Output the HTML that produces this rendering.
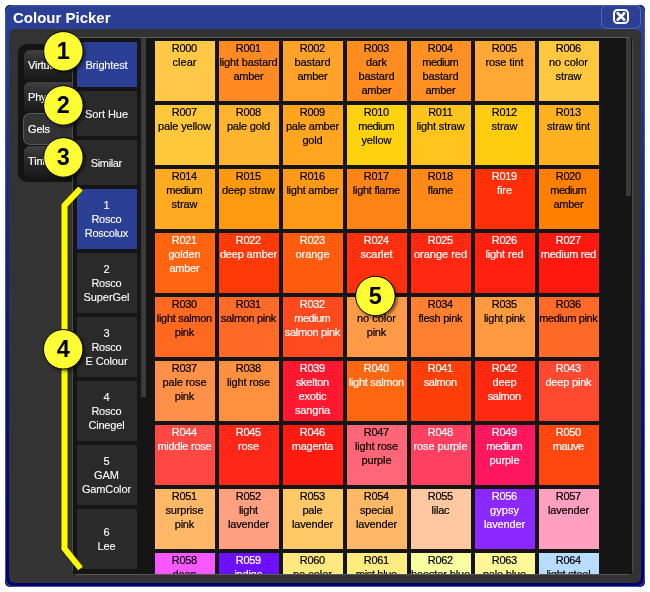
<!DOCTYPE html>
<html><head><meta charset="utf-8"><title>Colour Picker</title>
<style>
html,body{margin:0;padding:0;background:#fff;}
body{width:650px;height:592px;position:relative;overflow:hidden;font-family:"Liberation Sans",Arial,sans-serif;font-size:11px;}
.abs{position:absolute;}
#back{position:absolute;left:5px;top:5px;width:640px;height:582px;background:#000;border-radius:5px;}
#hl{position:absolute;left:5px;top:5px;width:640px;height:582px;border-radius:8px;background:#3e56b8;}
#win{position:absolute;left:6px;top:6px;width:638px;height:580px;border-radius:7px;background:linear-gradient(#2b3f94 0,#2b3f94 24px,#1b2d8a 154px,#0a1076 394px,#03036e 100%);overflow:hidden;}
#title{position:absolute;left:7px;top:2.5px;color:#fff;font-weight:bold;font-size:15px;line-height:18px;white-space:nowrap;}
#close{position:absolute;left:595px;top:-1px;width:38px;height:22px;border:1px solid #5069bb;border-radius:6px;}
#panel{position:absolute;left:3px;top:23px;width:632px;height:554px;background:#333;border-radius:6px;}
#pane{position:absolute;left:73px;top:38px;width:559px;height:536px;background:#151515;overflow:hidden;}
.ln{position:absolute;}
.sw{position:absolute;width:60px;height:60px;text-align:center;line-height:14px;color:#000;padding-top:0px;padding-right:1px;box-sizing:border-box;overflow:hidden;white-space:nowrap;}
.sw.w{color:#fff;}
.sw{-webkit-text-stroke:0.2px currentColor;}
.btn{-webkit-text-stroke:0.1px #fff;padding-right:1px;box-sizing:border-box;position:absolute;left:4px;width:60px;background:#2a2a2a;color:#fff;text-align:center;line-height:14px;display:flex;align-items:center;justify-content:center;}
.btn.sel{background:#2b3f94;}
.sb{position:absolute;background:#3a3a3a;}
#tabs{position:absolute;left:18px;top:44px;width:56px;height:138px;background:#141414;border-radius:9px 0 0 9px;}
.tab{letter-spacing:-0.17px;position:absolute;left:24px;width:48px;height:31px;border-radius:6px 0 0 6px;background:linear-gradient(#404040,#2a2a2a 45%,#181818);color:#fff;line-height:31px;padding-left:4px;-webkit-text-stroke:0.2px #fff;box-sizing:border-box;overflow:hidden;white-space:nowrap;}
.tab.sel{background:#333;border:1px solid #585858;border-right:none;left:23px;width:50px;border-radius:7px 0 0 7px;}
.circ{position:absolute;width:38px;height:38px;border-radius:50%;background:#ffff33;border:1px solid #000;box-shadow:2px 2px 3px rgba(0,0,0,.6);font-weight:bold;font-size:22px;line-height:38px;text-align:center;color:#000;}
</style></head><body>
<div id="back"></div>
<div id="hl"></div>
<div id="win">
 <div id="title">Colour Picker</div>
 <div id="close"><svg class="abs" style="left:11px;top:3px" width="17" height="16" viewBox="0 0 17 16"><rect x="1" y="1" width="14" height="13" rx="3.5" fill="none" stroke="#fff" stroke-width="2"/><path d="M4 3.5 L12 11.5 M12 3.5 L4 11.5" stroke="#fff" stroke-width="2.5" stroke-linecap="butt"/></svg></div>
 <div id="panel"></div>
</div>
<div id="tabs"></div>
<div class="tab" style="top:50px">Virtual</div>
<div class="tab" style="top:82px">Phys</div>
<div class="tab sel" style="top:113px;height:32px;line-height:30px">Gels</div>
<div class="tab" style="top:146px;height:32px;line-height:30px">Tints</div>
<div class="ln" style="left:76px;top:37px;width:553px;height:1px;background:#5c5c5c"></div><div class="ln" style="left:76px;top:574px;width:553px;height:1px;background:#585858"></div><div class="ln" style="left:72px;top:41px;width:1px;height:530px;background:#4c4c4c"></div><div class="ln" style="left:632px;top:41px;width:1px;height:530px;background:#4c4c4c"></div>
<div id="pane">
<div class="btn sel" style="top:4px;height:45px"><span><span style="letter-spacing:-0.157px;margin-right:0.157px">Brightest</span></span></div>
<div class="btn" style="top:53px;height:45px"><span><span style="letter-spacing:-0.051px;margin-right:0.051px">Sort Hue</span></span></div>
<div class="btn" style="top:102px;height:45px"><span><span style="letter-spacing:-0.373px;margin-right:0.373px">Similar</span></span></div>
<div class="btn sel" style="top:151px;height:60px"><span><span style="letter-spacing:-0.118px;margin-right:0.118px">1</span><br><span style="letter-spacing:-0.236px;margin-right:0.236px">Rosco</span><br><span style="letter-spacing:-0.28px;margin-right:0.28px">Roscolux</span></span></div>
<div class="btn" style="top:215px;height:60px"><span><span style="letter-spacing:-0.118px;margin-right:0.118px">2</span><br><span style="letter-spacing:-0.236px;margin-right:0.236px">Rosco</span><br><span style="letter-spacing:-0.059px;margin-right:0.059px">SuperGel</span></span></div>
<div class="btn" style="top:279px;height:60px"><span><span style="letter-spacing:-0.118px;margin-right:0.118px">3</span><br><span style="letter-spacing:-0.236px;margin-right:0.236px">Rosco</span><br><span style="letter-spacing:-0.1px;margin-right:0.1px">E Colour</span></span></div>
<div class="btn" style="top:343px;height:60px"><span><span style="letter-spacing:-0.118px;margin-right:0.118px">4</span><br><span style="letter-spacing:-0.236px;margin-right:0.236px">Rosco</span><br><span style="letter-spacing:-0.186px;margin-right:0.186px">Cinegel</span></span></div>
<div class="btn" style="top:407px;height:60px"><span><span style="letter-spacing:-0.118px;margin-right:0.118px">5</span><br><span style="letter-spacing:-0.019px;margin-right:0.019px">GAM</span><br><span style="letter-spacing:-0.14px;margin-right:0.14px">GamColor</span></span></div>
<div class="btn" style="top:471px;height:60px"><span><span style="letter-spacing:-0.118px;margin-right:0.118px">6</span><br><span style="letter-spacing:-0.118px;margin-right:0.118px">Lee</span></span></div>
<div class="sb" style="left:68px;top:0;width:5px;height:359px"></div>
<div class="sw" style="left:82px;top:3px;background:#FFC846"><span style="letter-spacing:-0.324px;margin-right:0.324px">R000</span><br><span style="letter-spacing:0.032px;margin-right:-0.032px">clear</span></div>
<div class="sw" style="left:146px;top:3px;background:#FF8A24"><span style="letter-spacing:-0.324px;margin-right:0.324px">R001</span><br><span style="letter-spacing:-0.148px;margin-right:0.148px">light bastard</span><br><span style="letter-spacing:-0.236px;margin-right:0.236px">amber</span></div>
<div class="sw" style="left:210px;top:3px;background:#FFA22A"><span style="letter-spacing:-0.324px;margin-right:0.324px">R002</span><br><span style="letter-spacing:-0.099px;margin-right:0.099px">bastard</span><br><span style="letter-spacing:-0.236px;margin-right:0.236px">amber</span></div>
<div class="sw" style="left:274px;top:3px;background:#FF8C20"><span style="letter-spacing:-0.324px;margin-right:0.324px">R003</span><br><span style="letter-spacing:-0.1px;margin-right:0.1px">dark</span><br><span style="letter-spacing:-0.099px;margin-right:0.099px">bastard</span><br><span style="letter-spacing:-0.236px;margin-right:0.236px">amber</span></div>
<div class="sw" style="left:338px;top:3px;background:#FF9024"><span style="letter-spacing:-0.324px;margin-right:0.324px">R004</span><br><span style="letter-spacing:-0.521px;margin-right:0.521px">medium</span><br><span style="letter-spacing:-0.099px;margin-right:0.099px">bastard</span><br><span style="letter-spacing:-0.236px;margin-right:0.236px">amber</span></div>
<div class="sw" style="left:402px;top:3px;background:#FFA838"><span style="letter-spacing:-0.324px;margin-right:0.324px">R005</span><br><span style="letter-spacing:-0.125px;margin-right:0.125px">rose tint</span></div>
<div class="sw" style="left:466px;top:3px;background:#FFC840"><span style="letter-spacing:-0.324px;margin-right:0.324px">R006</span><br><span style="letter-spacing:-0.017px;margin-right:0.017px">no color</span><br><span style="letter-spacing:-0.056px;margin-right:0.056px">straw</span></div>
<div class="sw" style="left:82px;top:67px;background:#FFC83A"><span style="letter-spacing:-0.324px;margin-right:0.324px">R007</span><br><span style="letter-spacing:-0.129px;margin-right:0.129px">pale yellow</span></div>
<div class="sw" style="left:146px;top:67px;background:#FFB430"><span style="letter-spacing:-0.324px;margin-right:0.324px">R008</span><br><span style="letter-spacing:-0.183px;margin-right:0.183px">pale gold</span></div>
<div class="sw" style="left:210px;top:67px;background:#FFA520"><span style="letter-spacing:-0.324px;margin-right:0.324px">R009</span><br><span style="letter-spacing:-0.203px;margin-right:0.203px">pale amber</span><br><span style="letter-spacing:-0.199px;margin-right:0.199px">gold</span></div>
<div class="sw" style="left:274px;top:67px;background:#FFD20F"><span style="letter-spacing:-0.324px;margin-right:0.324px">R010</span><br><span style="letter-spacing:-0.521px;margin-right:0.521px">medium</span><br><span style="letter-spacing:-0.094px;margin-right:0.094px">yellow</span></div>
<div class="sw" style="left:338px;top:67px;background:#FFC31E"><span style="letter-spacing:-0.324px;margin-right:0.324px">R011</span><br><span style="letter-spacing:-0.138px;margin-right:0.138px">light straw</span></div>
<div class="sw" style="left:402px;top:67px;background:#FFCC10"><span style="letter-spacing:-0.324px;margin-right:0.324px">R012</span><br><span style="letter-spacing:-0.056px;margin-right:0.056px">straw</span></div>
<div class="sw" style="left:466px;top:67px;background:#FFB220"><span style="letter-spacing:-0.324px;margin-right:0.324px">R013</span><br><span style="letter-spacing:-0.101px;margin-right:0.101px">straw tint</span></div>
<div class="sw" style="left:82px;top:131px;background:#FFAA20"><span style="letter-spacing:-0.324px;margin-right:0.324px">R014</span><br><span style="letter-spacing:-0.521px;margin-right:0.521px">medium</span><br><span style="letter-spacing:-0.056px;margin-right:0.056px">straw</span></div>
<div class="sw" style="left:146px;top:131px;background:#FF9A10"><span style="letter-spacing:-0.324px;margin-right:0.324px">R015</span><br><span style="letter-spacing:-0.081px;margin-right:0.081px">deep straw</span></div>
<div class="sw" style="left:210px;top:131px;background:#FF9A18"><span style="letter-spacing:-0.324px;margin-right:0.324px">R016</span><br><span style="letter-spacing:-0.22px;margin-right:0.22px">light amber</span></div>
<div class="sw" style="left:274px;top:131px;background:#FF8418"><span style="letter-spacing:-0.324px;margin-right:0.324px">R017</span><br><span style="letter-spacing:-0.285px;margin-right:0.285px">light flame</span></div>
<div class="sw" style="left:338px;top:131px;background:#FF8A18"><span style="letter-spacing:-0.324px;margin-right:0.324px">R018</span><br><span style="letter-spacing:-0.38px;margin-right:0.38px">flame</span></div>
<div class="sw w" style="left:402px;top:131px;background:#FF3008"><span style="letter-spacing:-0.324px;margin-right:0.324px">R019</span><br><span style="letter-spacing:-0.07px;margin-right:0.07px">fire</span></div>
<div class="sw" style="left:466px;top:131px;background:#FF8000"><span style="letter-spacing:-0.324px;margin-right:0.324px">R020</span><br><span style="letter-spacing:-0.521px;margin-right:0.521px">medium</span><br><span style="letter-spacing:-0.236px;margin-right:0.236px">amber</span></div>
<div class="sw w" style="left:82px;top:195px;background:#FF6410"><span style="letter-spacing:-0.324px;margin-right:0.324px">R021</span><br><span style="letter-spacing:-0.172px;margin-right:0.172px">golden</span><br><span style="letter-spacing:-0.236px;margin-right:0.236px">amber</span></div>
<div class="sw w" style="left:146px;top:195px;background:#FF3A08"><span style="letter-spacing:-0.324px;margin-right:0.324px">R022</span><br><span style="letter-spacing:-0.171px;margin-right:0.171px">deep amber</span></div>
<div class="sw w" style="left:210px;top:195px;background:#FF5C10"><span style="letter-spacing:-0.324px;margin-right:0.324px">R023</span><br><span style="letter-spacing:-0.042px;margin-right:0.042px">orange</span></div>
<div class="sw w" style="left:274px;top:195px;background:#FF3010"><span style="letter-spacing:-0.324px;margin-right:0.324px">R024</span><br><span style="letter-spacing:-0.057px;margin-right:0.057px">scarlet</span></div>
<div class="sw w" style="left:338px;top:195px;background:#FF2810"><span style="letter-spacing:-0.324px;margin-right:0.324px">R025</span><br><span style="letter-spacing:-0.021px;margin-right:0.021px">orange red</span></div>
<div class="sw w" style="left:402px;top:195px;background:#FF2010"><span style="letter-spacing:-0.324px;margin-right:0.324px">R026</span><br><span style="letter-spacing:-0.126px;margin-right:0.126px">light red</span></div>
<div class="sw w" style="left:466px;top:195px;background:#FF1810"><span style="letter-spacing:-0.324px;margin-right:0.324px">R027</span><br><span style="letter-spacing:-0.308px;margin-right:0.308px">medium red</span></div>
<div class="sw" style="left:82px;top:259px;background:#FF6A20"><span style="letter-spacing:-0.324px;margin-right:0.324px">R030</span><br><span style="letter-spacing:-0.308px;margin-right:0.308px">light salmon</span><br><span style="letter-spacing:-0.295px;margin-right:0.295px">pink</span></div>
<div class="sw" style="left:146px;top:259px;background:#FF6A28"><span style="letter-spacing:-0.324px;margin-right:0.324px">R031</span><br><span style="letter-spacing:-0.336px;margin-right:0.336px">salmon pink</span></div>
<div class="sw w" style="left:210px;top:259px;background:#FF4A20"><span style="letter-spacing:-0.324px;margin-right:0.324px">R032</span><br><span style="letter-spacing:-0.521px;margin-right:0.521px">medium</span><br><span style="letter-spacing:-0.336px;margin-right:0.336px">salmon pink</span></div>
<div class="sw" style="left:274px;top:259px;background:#FF9A48"><span style="letter-spacing:-0.324px;margin-right:0.324px">R033</span><br><span style="letter-spacing:-0.017px;margin-right:0.017px">no color</span><br><span style="letter-spacing:-0.295px;margin-right:0.295px">pink</span></div>
<div class="sw" style="left:338px;top:259px;background:#FF8030"><span style="letter-spacing:-0.324px;margin-right:0.324px">R034</span><br><span style="letter-spacing:-0.247px;margin-right:0.247px">flesh pink</span></div>
<div class="sw" style="left:402px;top:259px;background:#FF9A40"><span style="letter-spacing:-0.324px;margin-right:0.324px">R035</span><br><span style="letter-spacing:-0.241px;margin-right:0.241px">light pink</span></div>
<div class="sw" style="left:466px;top:259px;background:#FF6A28"><span style="letter-spacing:-0.324px;margin-right:0.324px">R036</span><br><span style="letter-spacing:-0.396px;margin-right:0.396px">medium pink</span></div>
<div class="sw" style="left:82px;top:323px;background:#FF9048"><span style="letter-spacing:-0.324px;margin-right:0.324px">R037</span><br><span style="letter-spacing:-0.139px;margin-right:0.139px">pale rose</span><br><span style="letter-spacing:-0.295px;margin-right:0.295px">pink</span></div>
<div class="sw" style="left:146px;top:323px;background:#FF9040"><span style="letter-spacing:-0.324px;margin-right:0.324px">R038</span><br><span style="letter-spacing:-0.163px;margin-right:0.163px">light rose</span></div>
<div class="sw w" style="left:210px;top:323px;background:#FF1830"><span style="letter-spacing:-0.324px;margin-right:0.324px">R039</span><br><span style="letter-spacing:-0.265px;margin-right:0.265px">skelton</span><br><span style="letter-spacing:-0.123px;margin-right:0.123px">exotic</span><br><span style="letter-spacing:-0.154px;margin-right:0.154px">sangria</span></div>
<div class="sw w" style="left:274px;top:323px;background:#FF6810"><span style="letter-spacing:-0.324px;margin-right:0.324px">R040</span><br><span style="letter-spacing:-0.308px;margin-right:0.308px">light salmon</span></div>
<div class="sw w" style="left:338px;top:323px;background:#FF3E08"><span style="letter-spacing:-0.324px;margin-right:0.324px">R041</span><br><span style="letter-spacing:-0.41px;margin-right:0.41px">salmon</span></div>
<div class="sw w" style="left:402px;top:323px;background:#FF2810"><span style="letter-spacing:-0.324px;margin-right:0.324px">R042</span><br><span style="letter-spacing:-0.118px;margin-right:0.118px">deep</span><br><span style="letter-spacing:-0.41px;margin-right:0.41px">salmon</span></div>
<div class="sw w" style="left:466px;top:323px;background:#FF4A30"><span style="letter-spacing:-0.324px;margin-right:0.324px">R043</span><br><span style="letter-spacing:-0.19px;margin-right:0.19px">deep pink</span></div>
<div class="sw w" style="left:82px;top:387px;background:#FF4842"><span style="letter-spacing:-0.324px;margin-right:0.324px">R044</span><br><span style="letter-spacing:-0.26px;margin-right:0.26px">middle rose</span></div>
<div class="sw w" style="left:146px;top:387px;background:#FF2818"><span style="letter-spacing:-0.324px;margin-right:0.324px">R045</span><br><span style="letter-spacing:-0.1px;margin-right:0.1px">rose</span></div>
<div class="sw w" style="left:210px;top:387px;background:#FF1A12"><span style="letter-spacing:-0.324px;margin-right:0.324px">R046</span><br><span style="letter-spacing:-0.258px;margin-right:0.258px">magenta</span></div>
<div class="sw" style="left:274px;top:387px;background:#FF6678"><span style="letter-spacing:-0.324px;margin-right:0.324px">R047</span><br><span style="letter-spacing:-0.163px;margin-right:0.163px">light rose</span><br><span style="letter-spacing:-0.096px;margin-right:0.096px">purple</span></div>
<div class="sw w" style="left:338px;top:387px;background:#FF4060"><span style="letter-spacing:-0.324px;margin-right:0.324px">R048</span><br><span style="letter-spacing:-0.094px;margin-right:0.094px">rose purple</span></div>
<div class="sw w" style="left:402px;top:387px;background:#FF1860"><span style="letter-spacing:-0.324px;margin-right:0.324px">R049</span><br><span style="letter-spacing:-0.521px;margin-right:0.521px">medium</span><br><span style="letter-spacing:-0.096px;margin-right:0.096px">purple</span></div>
<div class="sw w" style="left:466px;top:387px;background:#FF4810"><span style="letter-spacing:-0.324px;margin-right:0.324px">R050</span><br><span style="letter-spacing:-0.403px;margin-right:0.403px">mauve</span></div>
<div class="sw" style="left:82px;top:451px;background:#FFB868"><span style="letter-spacing:-0.324px;margin-right:0.324px">R051</span><br><span style="letter-spacing:-0.14px;margin-right:0.14px">surprise</span><br><span style="letter-spacing:-0.295px;margin-right:0.295px">pink</span></div>
<div class="sw" style="left:146px;top:451px;background:#FFA080"><span style="letter-spacing:-0.324px;margin-right:0.324px">R052</span><br><span style="letter-spacing:-0.236px;margin-right:0.236px">light</span><br><span style="letter-spacing:-0.149px;margin-right:0.149px">lavender</span></div>
<div class="sw" style="left:210px;top:451px;background:#FFC868"><span style="letter-spacing:-0.324px;margin-right:0.324px">R053</span><br><span style="letter-spacing:-0.199px;margin-right:0.199px">pale</span><br><span style="letter-spacing:-0.149px;margin-right:0.149px">lavender</span></div>
<div class="sw" style="left:274px;top:451px;background:#FFB868"><span style="letter-spacing:-0.324px;margin-right:0.324px">R054</span><br><span style="letter-spacing:-0.177px;margin-right:0.177px">special</span><br><span style="letter-spacing:-0.149px;margin-right:0.149px">lavender</span></div>
<div class="sw" style="left:338px;top:451px;background:#FFC8A0"><span style="letter-spacing:-0.324px;margin-right:0.324px">R055</span><br><span style="letter-spacing:-0.19px;margin-right:0.19px">lilac</span></div>
<div class="sw w" style="left:402px;top:451px;background:#8A28FF"><span style="letter-spacing:-0.324px;margin-right:0.324px">R056</span><br><span style="letter-spacing:0.053px;margin-right:-0.053px">gypsy</span><br><span style="letter-spacing:-0.149px;margin-right:0.149px">lavender</span></div>
<div class="sw" style="left:466px;top:451px;background:#FFA0C0"><span style="letter-spacing:-0.324px;margin-right:0.324px">R057</span><br><span style="letter-spacing:-0.149px;margin-right:0.149px">lavender</span></div>
<div class="sw" style="left:82px;top:515px;background:#F858FF"><span style="letter-spacing:-0.324px;margin-right:0.324px">R058</span><br><span style="letter-spacing:-0.118px;margin-right:0.118px">deep</span><br><span style="letter-spacing:-0.149px;margin-right:0.149px">lavender</span></div>
<div class="sw w" style="left:146px;top:515px;background:#6C10FF"><span style="letter-spacing:-0.324px;margin-right:0.324px">R059</span><br><span style="letter-spacing:-0.226px;margin-right:0.226px">indigo</span></div>
<div class="sw" style="left:210px;top:515px;background:#FFE880"><span style="letter-spacing:-0.324px;margin-right:0.324px">R060</span><br><span style="letter-spacing:-0.017px;margin-right:0.017px">no color</span><br><span style="letter-spacing:-0.199px;margin-right:0.199px">blue</span></div>
<div class="sw" style="left:274px;top:515px;background:#FFEC80"><span style="letter-spacing:-0.324px;margin-right:0.324px">R061</span><br><span style="letter-spacing:-0.335px;margin-right:0.335px">mist blue</span></div>
<div class="sw" style="left:338px;top:515px;background:#F8FFA0"><span style="letter-spacing:-0.324px;margin-right:0.324px">R062</span><br><span style="letter-spacing:-0.129px;margin-right:0.129px">booster blue</span></div>
<div class="sw" style="left:402px;top:515px;background:#FFF898"><span style="letter-spacing:-0.324px;margin-right:0.324px">R063</span><br><span style="letter-spacing:-0.183px;margin-right:0.183px">pale blue</span></div>
<div class="sw" style="left:466px;top:515px;background:#B8DCFF"><span style="letter-spacing:-0.324px;margin-right:0.324px">R064</span><br><span style="letter-spacing:-0.225px;margin-right:0.225px">light steel</span><br><span style="letter-spacing:-0.199px;margin-right:0.199px">blue</span></div>
<div class="sb" style="left:553px;top:0;width:5px;height:158px"></div>
</div>
<svg class="abs" style="left:0;top:0" width="650" height="592"><polyline points="80.5,188.5 64.5,205.5 64.5,548.5 80.5,568.5" fill="none" stroke="#ffff00" stroke-width="6" stroke-linejoin="miter"/></svg>
<svg class="abs" style="left:0;top:0;filter:drop-shadow(2px 2px 1.5px rgba(0,0,0,.5))" width="650" height="592"><g><circle cx="63.4" cy="51.3" r="19.75" fill="#ffff33" stroke="#000" stroke-width="1"/><text x="63.4" y="58.9" text-anchor="middle" font-size="23.5" font-weight="bold" font-family="Liberation Sans, Arial, sans-serif" fill="#000">1</text></g><g><circle cx="63.4" cy="105.4" r="19.75" fill="#ffff33" stroke="#000" stroke-width="1"/><text x="63.4" y="113.0" text-anchor="middle" font-size="23.5" font-weight="bold" font-family="Liberation Sans, Arial, sans-serif" fill="#000">2</text></g><g><circle cx="63.4" cy="157.4" r="19.75" fill="#ffff33" stroke="#000" stroke-width="1"/><text x="63.4" y="165.0" text-anchor="middle" font-size="23.5" font-weight="bold" font-family="Liberation Sans, Arial, sans-serif" fill="#000">3</text></g><g><circle cx="63.2" cy="349.3" r="19.75" fill="#ffff33" stroke="#000" stroke-width="1"/><text x="63.2" y="356.9" text-anchor="middle" font-size="23.5" font-weight="bold" font-family="Liberation Sans, Arial, sans-serif" fill="#000">4</text></g><g><circle cx="375.4" cy="296.0" r="19.75" fill="#ffff33" stroke="#000" stroke-width="1"/><text x="375.4" y="303.6" text-anchor="middle" font-size="23.5" font-weight="bold" font-family="Liberation Sans, Arial, sans-serif" fill="#000">5</text></g></svg>
</body></html>
